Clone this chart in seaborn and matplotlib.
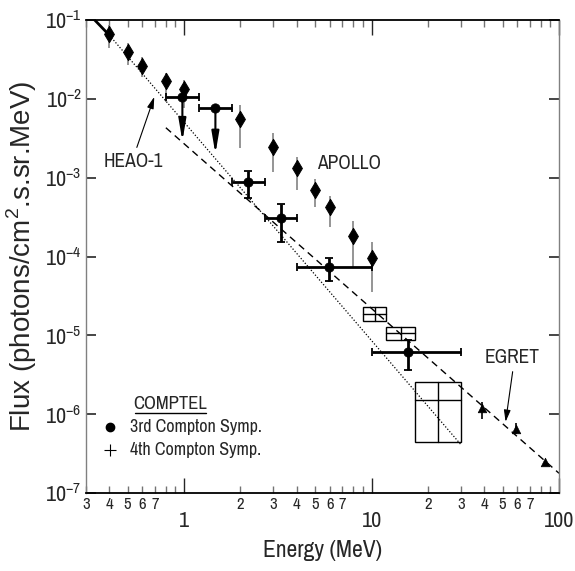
import numpy as np
import seaborn as sns
import matplotlib.pyplot as plt
from matplotlib.patches import Rectangle
from matplotlib.ticker import FixedLocator, FuncFormatter, NullLocator

# APOLLO points (diamonds) with grey error bars
apollo_e = [0.4, 0.5, 0.6, 0.8, 1.0, 2.0, 3.0, 4.0, 5.0, 6.0, 8.0, 10.0]
apollo_f = [0.066, 0.039, 0.026, 0.0168, 0.0133, 0.0055, 0.00247, 0.00131, 7.0e-4, 4.2e-4, 1.82e-4, 9.7e-5]
apollo_lo = [0.0441, 0.0269, 0.0191, 0.0092, 0.0077, 0.00236, 0.00119, 6.97e-4, 4.21e-4, 2.39e-4, 7.1e-5, 3.5e-5]
apollo_hi = [0.0864, 0.0506, 0.0342, 0.0211, 0.0173, 0.0084, 0.0037, 0.00185, 9.5e-4, 5.85e-4, 2.84e-4, 1.54e-4]

# COMPTEL 3rd symposium points
comptel_e = [2.2, 3.28, 5.95, 15.7]
comptel_f = [8.8e-4, 3.1e-4, 7.4e-5, 6.2e-6]
comptel_elo = [1.8, 2.7, 4.0, 10.0]
comptel_ehi = [2.7, 4.0, 10.0, 30.0]
comptel_flo = [5.5e-4, 1.53e-4, 4.9e-5, 3.6e-6]
comptel_fhi = [1.22e-3, 4.63e-4, 9.7e-5, 8.7e-6]

# COMPTEL upper limits
ul_e = [0.98, 1.47]
ul_f = [0.0105, 0.0077]
ul_elo = [0.8, 1.2]
ul_ehi = [1.2, 1.8]
ul_tip = [0.0029, 0.002]

# COMPTEL 4th symposium boxes
box_elo = [9.0, 12.0, 17.1]
box_ehi = [12.0, 17.1, 30.0]
box_flo = [1.53e-5, 8.7e-6, 4.5e-7]
box_fhi = [2.27e-5, 1.29e-5, 2.58e-6]
box_e = [10.4, 14.4, 22.7]
box_f = [1.87e-5, 1.06e-5, 1.51e-6]

# EGRET
egret_e = [39.0, 59.0, 84.0]
egret_f = [1.19e-6, 6.5e-7, 2.5e-7]
egret_lo = [8.6e-7, 5.6e-7, 2.5e-7]
egret_hi = [1.44e-6, 7.7e-7, 2.5e-7]

# HEAO-1 spectrum and power-law fit
heao_solid_e = [0.3, 0.4]
heao_solid_f = [0.13, 0.064]
heao_dot_e = [0.4, 30.0]
heao_dot_f = [0.064, 4.1e-7]
fit_e = [0.8, 100.0]
fit_f = [4.3e-3, 1.78e-7]

sns.set_style("ticks")
plt.rcParams['font.family'] = ['Liberation Sans Narrow', 'Archivo Narrow', 'Liberation Sans', 'DejaVu Sans']
plt.rcParams['axes.unicode_minus'] = False

fig = plt.figure(figsize=(5.75, 5.71), dpi=100)
ax = fig.add_axes([86 / 575, 78 / 571, 473 / 575, 473 / 571])
ax.set_xscale('log')
ax.set_yscale('log')

# lines
sns.lineplot(x=heao_solid_e, y=heao_solid_f, color='black', lw=2, ax=ax)
sns.lineplot(x=heao_dot_e, y=heao_dot_f, color='black', lw=0.9, ls=(0, (1, 1.5)), ax=ax)
sns.lineplot(x=fit_e, y=fit_f, color='black', lw=1, ls=(0, (5, 3.5)), ax=ax)

# APOLLO
ax.vlines(apollo_e, apollo_lo, apollo_hi, color='0.55', lw=1.3, zorder=2)
sns.scatterplot(x=apollo_e, y=apollo_f, marker='d', s=70, color='black', edgecolor='black', ax=ax, zorder=4)

# COMPTEL points
ce = np.array(comptel_e)
cf = np.array(comptel_f)
ax.errorbar(ce, cf, xerr=[ce - np.array(comptel_elo), np.array(comptel_ehi) - ce],
            yerr=[cf - np.array(comptel_flo), np.array(comptel_fhi) - cf],
            fmt='none', ecolor='black', elinewidth=2, capsize=3, capthick=1.3, zorder=3)
sns.scatterplot(x=comptel_e, y=comptel_f, marker='o', s=45, color='black', edgecolor='black', ax=ax, zorder=4)

# upper limits
ue = np.array(ul_e)
ax.errorbar(ue, ul_f, xerr=[ue - np.array(ul_elo), np.array(ul_ehi) - ue],
            fmt='none', ecolor='black', elinewidth=2, capsize=3, capthick=1.3, zorder=3)
sns.scatterplot(x=ul_e, y=ul_f, marker='o', s=45, color='black', edgecolor='black', ax=ax, zorder=4)
for e, f, t in zip(ul_e, ul_f, ul_tip):
    ax.annotate('', xy=(e, t), xytext=(e, f),
                arrowprops=dict(arrowstyle='-|>,head_length=1.3,head_width=0.22', color='black',
                                lw=1.5, shrinkA=0, shrinkB=0))

# boxes
for x0, x1, y0, y1, xc, yc in zip(box_elo, box_ehi, box_flo, box_fhi, box_e, box_f):
    ax.add_patch(Rectangle((x0, y0), x1 - x0, y1 - y0, fill=False, ec='black', lw=1, zorder=3))
    ax.plot([xc, xc], [y0, y1], color='black', lw=1)
    ax.plot([x0, x1], [yc, yc], color='black', lw=1)

# EGRET
ax.vlines(egret_e, egret_lo, egret_hi, color='black', lw=1.2)
sns.scatterplot(x=egret_e, y=egret_f, marker='^', s=38, color='black', edgecolor='black', ax=ax, zorder=4)

# labels on the plot
ax.text(0.534, 1.6e-3, 'HEAO-1', fontsize=14, ha='center', va='center')
ax.annotate('', xy=(0.694, 0.0106), xytext=(0.56, 2.42e-3),
            arrowprops=dict(arrowstyle='-|>,head_length=0.7,head_width=0.2', color='black',
                            lw=0.8, shrinkA=0, shrinkB=0))
ax.text(7.58, 1.53e-3, 'APOLLO', fontsize=14, ha='center', va='center')
ax.text(56.5, 5.3e-6, 'EGRET', fontsize=14, ha='center', va='center')
ax.annotate('', xy=(51.9, 8.0e-7), xytext=(56.6, 3.46e-6),
            arrowprops=dict(arrowstyle='-|>,head_length=0.7,head_width=0.2', color='black',
                            lw=0.8, shrinkA=0, shrinkB=0))

# legend block
ax.text(0.1786, 0.1877, 'COMPTEL', transform=ax.transAxes, fontsize=13.5, ha='center', va='center')
ax.plot([0.1036, 0.2537], [0.169, 0.169], transform=ax.transAxes, color='black', lw=1)
ax.plot([0.0507], [0.1402], transform=ax.transAxes, marker='o', ms=6, color='black')
ax.text(0.093, 0.1402, '3rd Compton Symp.', transform=ax.transAxes, fontsize=13, va='center')
ax.plot([0.0507], [0.0909], transform=ax.transAxes, marker='+', ms=8, mew=0.8, color='black')
ax.text(0.093, 0.0909, '4th Compton Symp.', transform=ax.transAxes, fontsize=13, va='center')

# axes
ax.set_xlim(0.3, 100)
ax.set_ylim(1e-7, 1e-1)
minor_ticks = [m * 10.0 ** k for k in (-1, 0, 1) for m in range(2, 10) if m * 10.0 ** k >= 0.3]


def minor_label(v, pos):
    d = int(round(v / 10 ** np.floor(np.log10(v) + 1e-9)))
    return str(d) if 2 <= d <= 7 else ''


ax.xaxis.set_major_locator(FixedLocator([1, 10, 100]))
ax.xaxis.set_major_formatter(FuncFormatter(lambda v, pos: '%g' % v))
ax.xaxis.set_minor_locator(FixedLocator(minor_ticks))
ax.xaxis.set_minor_formatter(FuncFormatter(minor_label))
ax.yaxis.set_major_locator(FixedLocator([10.0 ** k for k in range(-7, 0)]))
ax.yaxis.set_minor_locator(NullLocator())

ax.tick_params(axis='x', which='major', direction='in', length=11, width=1, top=True,
               labelsize=16, pad=13)
ax.tick_params(axis='x', which='minor', direction='in', length=5, width=1, top=True,
               labelsize=12, pad=3, color='0.45')
ax.tick_params(axis='y', which='major', direction='in', length=7, width=1.2, right=True,
               labelsize=16, pad=3)

for side in ['left', 'right']:
    ax.spines[side].set_color('0.5')
    ax.spines[side].set_linewidth(1)
for side in ['top', 'bottom']:
    ax.spines[side].set_color('black')
    ax.spines[side].set_linewidth(1.3)

ax.set_xlabel('Energy (MeV)', fontsize=17)
ax.xaxis.set_label_coords(0.5, -0.1)
ax.set_ylabel('Flux (photons/cm$^{\\mathdefault{2}}$.s.sr.MeV)', fontsize=20,
              family=['Liberation Sans', 'DejaVu Sans'])
ax.yaxis.set_label_coords(-0.10, 0.5)

fig.savefig('out.png', dpi=100)
